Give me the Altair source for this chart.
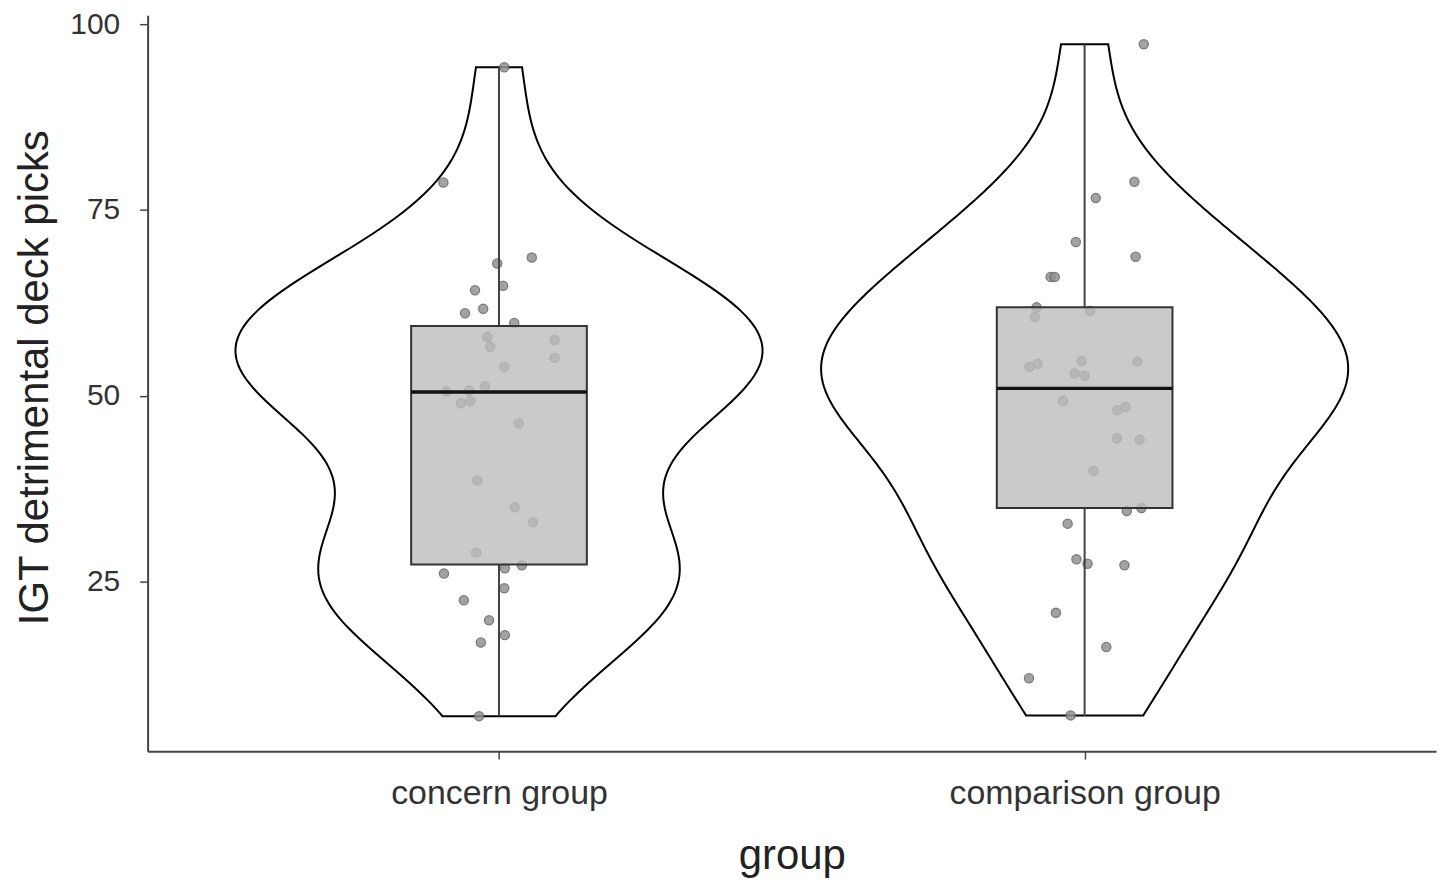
import altair as alt
import pandas as pd
import numpy as np

# ---------------- data ----------------
groups = ["concern group", "comparison group"]

concern_picks = [94.2, 78.7, 68.6, 67.8, 64.8, 64.2, 61.7, 61.1, 59.8, 57.9,
                 56.6, 57.5, 55.1, 53.9, 51.3, 50.7, 50.6, 49.3, 49.0, 46.3,
                 38.6, 35.0, 33.0, 28.9, 27.2, 26.8, 26.1, 24.1, 22.5, 19.8,
                 17.8, 16.8, 6.9]
concern_jitter = [0.009, -0.095, 0.056, -0.003, 0.007, -0.041, -0.027, -0.058, 0.026, -0.020,
                  -0.015, 0.095, 0.095, 0.009, -0.024, -0.051, -0.090, -0.049, -0.065, 0.034,
                  -0.037, 0.027, 0.058, -0.039, 0.039, 0.010, -0.094, 0.009, -0.060, -0.017,
                  0.010, -0.031, -0.034]

comparison_picks = [97.3, 78.8, 76.6, 70.7, 68.7, 66.0, 66.0, 61.9, 61.4, 60.6,
                    54.7, 54.6, 54.3, 53.9, 53.0, 52.7, 49.3, 48.5, 48.1, 44.3,
                    44.1, 39.9, 34.9, 34.5, 32.8, 28.0, 27.4, 27.2, 20.8, 16.2,
                    12.0, 7.0]
comparison_jitter = [0.101, 0.085, 0.019, -0.015, 0.087, -0.058, -0.051, -0.082, 0.009, -0.085,
                     -0.005, 0.090, -0.080, -0.094, -0.017, 0.000, -0.037, 0.070, 0.056, 0.055,
                     0.094, 0.015, 0.097, 0.072, -0.029, -0.014, 0.005, 0.068, -0.049, 0.037,
                     -0.095, -0.024]

# boxplot statistics
box_min = [6.9, 6.9]
box_q1 = [27.3, 34.9]
box_median = [50.5, 51.0]
box_q3 = [59.4, 61.9]
box_max = [94.2, 97.3]

# ---------------- tables ----------------
pts = pd.DataFrame({
    "gidx": [1] * len(concern_picks) + [2] * len(comparison_picks),
    "picks": concern_picks + comparison_picks,
    "jit": concern_jitter + comparison_jitter,
})

box = pd.DataFrame({"gidx": [1, 2], "lo": box_min, "q1": box_q1,
                    "med": box_median, "q3": box_q3, "hi": box_max})


def nrd0(v):
    v = np.asarray(v, float)
    sd = v.std(ddof=1)
    q75, q25 = np.percentile(v, [75, 25])
    return 0.9 * min(sd, (q75 - q25) / 1.34) * len(v) ** -0.2


FONT = "Liberation Sans"
x_scale = alt.Scale(domain=[0.4, 2.6], nice=False, zero=False)
y_scale = alt.Scale(domain=[2.19, 101.21], nice=False, zero=False)

label_expr = f"datum.value == 1 ? '{groups[0]}' : '{groups[1]}'"

x_axis = alt.Axis(values=[1, 2], labelExpr=label_expr, title="group", grid=False,
                  labelBaseline="alphabetic", labelPadding=45, labelFontSize=34,
                  labelLimit=0,
                  titleFontSize=42, titleX=646, titleY=118, titleBaseline="alphabetic",
                  titleAlign="center", titleFontWeight="normal")
y_axis = alt.Axis(values=[25, 50, 75, 100], title="IGT detrimental deck picks", grid=False,
                  labelPadding=20, labelFontSize=30, labelBaseline="middle",
                  titleFontSize=42, titleAngle=270, titleX=-100, titleY=363,
                  titleBaseline="alphabetic", titleAlign="center", titleFontWeight="normal")


def X(field):
    return alt.X(field, type="quantitative", scale=x_scale, axis=x_axis, title="group")


def Y(field):
    return alt.Y(field, type="quantitative", scale=y_scale, axis=y_axis,
                 title="IGT detrimental deck picks")


def violin_layer(gi, values):
    bw = nrd0(values)
    return (
        alt.Chart(pts)
        .transform_filter(f"datum.gidx == {gi}")
        .transform_density("picks", bandwidth=bw, steps=200,
                           extent=[float(min(values)), float(max(values))],
                           as_=["picks", "density"])
        .transform_joinaggregate(maxd="max(density)")
        .transform_calculate(xl=f"{gi} - 0.45 * datum.density / datum.maxd",
                             xr=f"{gi} + 0.45 * datum.density / datum.maxd")
        .mark_area(orient="horizontal", fill="white", stroke="black", strokeWidth=2)
        .encode(y=Y("picks"), x=X("xl"), x2="xr")
    )


violin1 = violin_layer(1, concern_picks)
violin2 = violin_layer(2, comparison_picks)

points = (
    alt.Chart(pts)
    .transform_calculate(xp="datum.gidx + datum.jit")
    .mark_circle(size=85, color="#929292", opacity=0.85, stroke="#666666", strokeWidth=1.3)
    .encode(x=X("xp"), y=Y("picks"))
)

whisker_low = (
    alt.Chart(box)
    .mark_rule(color="#444444", strokeWidth=2)
    .encode(x=X("gidx"), y=Y("lo"), y2="q1")
)
whisker_high = (
    alt.Chart(box)
    .mark_rule(color="#444444", strokeWidth=2)
    .encode(x=X("gidx"), y=Y("q3"), y2="hi")
)

boxes = (
    alt.Chart(box)
    .transform_calculate(bl="datum.gidx - 0.15", br="datum.gidx + 0.15")
    .mark_rect(fill="#bdbdbd", fillOpacity=0.8, stroke="#333333", strokeWidth=2)
    .encode(x=X("bl"), x2="br", y=Y("q1"), y2="q3")
)

median = (
    alt.Chart(box)
    .transform_calculate(bl="datum.gidx - 0.15", br="datum.gidx + 0.15")
    .mark_rule(color="#111111", strokeWidth=3.5)
    .encode(x=X("bl"), x2="br", y=Y("med"))
)

chart = (
    alt.layer(violin1, violin2, points, whisker_low, whisker_high, boxes, median)
    .properties(width=1292, height=738,
                autosize=alt.AutoSizeParams(type="none"),
                padding={"left": 140, "top": 6, "right": 5, "bottom": 130})
    .configure_view(stroke=None)
    .configure_axis(domainColor="#444444", domainWidth=2, tickColor="#444444",
                    tickWidth=1.5, tickSize=8, labelFont=FONT, titleFont=FONT,
                    labelColor="#333333", titleColor="#222222")
)

chart.save("out.html", embed_options={"renderer": "svg", "actions": False})
